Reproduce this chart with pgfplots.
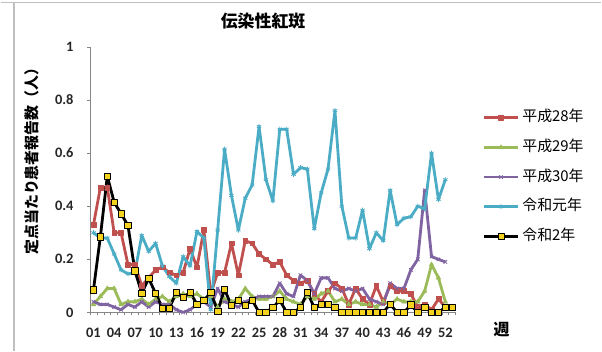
\documentclass[border=0pt]{standalone}
\usepackage{fontspec}
\usepackage{pgfplots}
\pgfplotsset{compat=1.18}
\setmainfont{Carlito}
\newfontfamily\cjk{Noto Sans CJK JP}

\definecolor{hRed}{HTML}{C0504D}
\definecolor{hGreen}{HTML}{9BBB59}
\definecolor{hPurple}{HTML}{8064A2}
\definecolor{rCyan}{HTML}{4BACC6}
\definecolor{rYellow}{HTML}{F5D21E}
\definecolor{axisGray}{HTML}{868686}
\definecolor{frameGray}{HTML}{BFBFBF}

% weekly reports per sentinel site
\pgfplotstableread{
w v
1 0.33
2 0.47
3 0.47
4 0.30
5 0.30
6 0.18
7 0.18
8 0.10
9 0.13
10 0.16
11 0.17
12 0.15
13 0.14
14 0.15
15 0.24
16 0.17
17 0.31
18 0.07
19 0.15
20 0.15
21 0.26
22 0.14
23 0.27
24 0.26
25 0.22
26 0.20
27 0.18
28 0.19
29 0.14
30 0.12
31 0.11
32 0.12
33 0.07
34 0.04
35 0.08
36 0.11
37 0.09
38 0.03
39 0.09
40 0.05
41 0.03
42 0.10
43 0.04
44 0.10
45 0.08
46 0.08
47 0.07
48 0.02
49 0.03
50 0.01
51 0.05
52 0.02
}\hA
\pgfplotstableread{
w v
1 0.03
2 0.06
3 0.09
4 0.09
5 0.03
6 0.04
7 0.04
8 0.05
9 0.03
10 0.05
11 0.06
12 0.04
13 0.06
14 0.07
15 0.06
16 0.07
17 0.05
18 0.06
19 0.02
20 0.05
21 0.04
22 0.05
23 0.09
24 0.06
25 0.05
26 0.05
27 0.06
28 0.08
29 0.05
30 0.04
31 0.03
32 0.06
33 0.05
34 0.07
35 0.08
36 0.04
37 0.05
38 0.03
39 0.04
40 0.03
41 0.03
42 0.02
43 0.04
44 0.03
45 0.05
46 0.04
47 0.04
48 0.04
49 0.08
50 0.18
51 0.13
52 0.04
}\hB
\pgfplotstableread{
w v
1 0.04
2 0.03
3 0.03
4 0.02
5 0.01
6 0.03
7 0.02
8 0.04
9 0.02
10 0.04
11 0.03
12 0.03
13 0.01
14 0.00
15 0.01
16 0.03
17 0.04
18 0.02
19 0.09
20 0.04
21 0.03
22 0.02
23 0.04
24 0.05
25 0.06
26 0.06
27 0.06
28 0.11
29 0.07
30 0.06
31 0.14
32 0.12
33 0.07
34 0.13
35 0.13
36 0.09
37 0.08
38 0.09
39 0.08
40 0.09
41 0.05
42 0.04
43 0.03
44 0.11
45 0.09
46 0.09
47 0.16
48 0.20
49 0.46
50 0.21
51 0.20
52 0.19
}\hC
\pgfplotstableread{
w v
1 0.30
2 0.28
3 0.28
4 0.22
5 0.16
6 0.145
7 0.15
8 0.29
9 0.23
10 0.26
11 0.175
12 0.135
13 0.11
14 0.21
15 0.175
16 0.305
17 0.28
18 0.01
19 0.31
20 0.615
21 0.44
22 0.31
23 0.43
24 0.48
25 0.70
26 0.50
27 0.42
28 0.69
29 0.69
30 0.52
31 0.545
32 0.54
33 0.315
34 0.45
35 0.54
36 0.76
37 0.40
38 0.28
39 0.28
40 0.385
41 0.24
42 0.30
43 0.27
44 0.46
45 0.33
46 0.355
47 0.36
48 0.40
49 0.39
50 0.60
51 0.425
52 0.50
}\rA
\pgfplotstableread{
w v
1 0.085
2 0.285
3 0.513
4 0.415
5 0.372
6 0.327
7 0.157
8 0.072
9 0.128
10 0.072
11 0.016
12 0.016
13 0.075
14 0.056
15 0.075
16 0.031
17 0.045
18 0.075
19 0.005
20 0.086
21 0.026
22 0.046
23 0.026
24 0.046
25 0
26 0
27 0.018
28 0.046
29 0
30 0
31 0.018
32 0.075
33 0.018
34 0.031
35 0.031
36 0.018
37 0
38 0
39 0
40 0
41 0
42 0
43 0
44 0.031
45 0
46 0
47 0.028
48 0
49 0.019
50 0
51 0
52 0.019
53 0.019
}\rB

\begin{document}
\begin{tikzpicture}
% page area
\path (0bp,0bp) rectangle (602bp,352bp);
% outer chart frame
\draw[frameGray, line width=1.2bp] (0bp,349.5bp) -- (602bp,349.5bp);
\draw[frameGray, line width=1.2bp] (13.5bp,349.5bp) -- (13.5bp,0bp);

\begin{axis}[
  at={(89.6bp,39bp)}, anchor=south west,
  scale only axis, width=366.4bp, height=266bp,
  xmin=0.5, xmax=53.5, ymin=0, ymax=1,
  axis x line*=bottom, axis y line*=left,
  axis line style={axisGray, line width=0.8bp},
  tick align=outside,
  major tick length=3bp, minor tick length=3bp,
  tick style={axisGray, line width=0.6bp},
  xtick={1,4,...,52},
  xticklabels={01,04,07,10,13,16,19,22,25,28,31,34,37,40,43,46,49,52},
  minor xtick={0.5,1.5,...,53.5},
  major x tick style={draw opacity=0},
  ytick={0,0.2,0.4,0.6,0.8,1},
  yticklabels={0,0.2,0.4,0.6,0.8,1},
  /pgf/number format/assume math mode=true,
  ticklabel style={font=\bfseries\fontsize{14.5}{15}\selectfont, text=black!85},
  xticklabel style={yshift=-9bp},
  yticklabel style={xshift=-10bp},
  legend cell align=left,
  legend image code/.code={\draw[mark repeat=2,mark phase=2,#1] plot coordinates {(0bp,0bp) (17bp,0bp) (34bp,0bp)};},
  legend style={at={(rel axis cs:1.0737,0.7556)}, anchor=north west,
    draw=none, fill=none, inner sep=0pt, outer sep=0pt,
    font=\cjk\fontsize{15}{15}\selectfont, row sep=17.7bp,
    nodes={inner sep=0pt, text height=10bp, text depth=2bp},
    /tikz/every odd column/.append style={column sep=3bp}},
  every axis plot/.append style={line width=2.8bp, line join=round},
]
\addplot[hRed, mark=square*, mark size=2.4bp, mark options={line width=0.5bp}] table[x=w,y=v] {\hA};
\addlegendentry{平成28年}
\addplot[hGreen, mark=triangle*, mark size=2.7bp, mark options={line width=0.5bp}] table[x=w,y=v] {\hB};
\addlegendentry{平成29年}
\addplot[hPurple, mark=x, mark size=2.5bp, mark options={line width=0.8bp}] table[x=w,y=v] {\hC};
\addlegendentry{平成30年}
\addplot[rCyan, mark=asterisk, mark size=2.5bp, mark options={line width=0.8bp}] table[x=w,y=v] {\rA};
\addlegendentry{令和元年}
\addplot[black, mark=square*, mark size=3.2bp, mark options={fill=rYellow, draw=black, line width=0.6bp}] table[x=w,y=v] {\rB};
\addlegendentry{令和2年}
\end{axis}

\node[font=\cjk\bfseries\fontsize{17}{17}\selectfont] at (263bp,331bp) {伝染性紅斑};
\node[font=\cjk\bfseries\fontsize{15}{15}\selectfont, rotate=90] at (31bp,194bp) {定点当たり患者報告数（人）};
\node[font=\cjk\bfseries\fontsize{16}{16}\selectfont] at (502bp,22bp) {週};
\end{tikzpicture}
\end{document}
